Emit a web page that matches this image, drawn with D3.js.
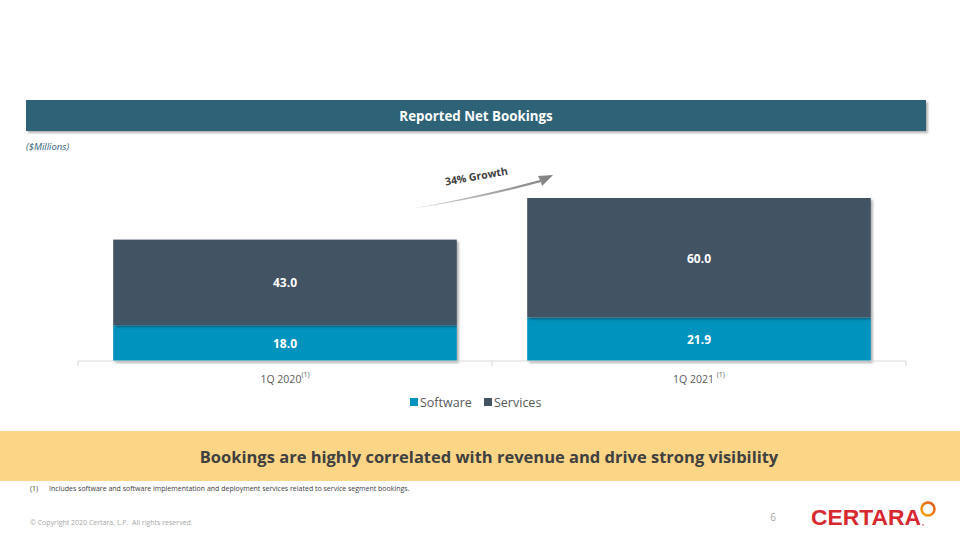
<!DOCTYPE html>
<html><head><meta charset="utf-8">
<script src="https://cdn.jsdelivr.net/npm/d3@7"></script>
<style>
html,body{margin:0;padding:0;background:#fff;}
svg{display:block;}
</style></head>
<body>
<svg id="c" width="960" height="540"></svg>
<script>
const categories = ["1Q 2020", "1Q 2021"];
const software = [18.0, 21.9];
const services = [43.0, 60.0];
const seriesNames = ["Software", "Services"];
const seriesColors = ["#0093bd", "#435364"];

const FONT = "'Open Sans',sans-serif";
const svg = d3.select("#c");
const defs = svg.append("defs");

const sh = defs.append("filter").attr("id","sh").attr("x","-5%").attr("y","-5%").attr("width","115%").attr("height","130%");
sh.append("feDropShadow").attr("dx",2).attr("dy",2).attr("stdDeviation",1.2).attr("flood-color","#000").attr("flood-opacity",0.3);

// Header banner
svg.append("rect").attr("x",26).attr("y",100).attr("width",900).attr("height",31)
  .attr("fill","#2f6277").attr("filter","url(#sh)");
svg.append("text").attr("x",476).attr("y",120.5).attr("text-anchor","middle")
  .attr("font-family",FONT).attr("font-weight","bold").attr("font-size",13.3).attr("fill","#fff")
  .text("Reported Net Bookings");
svg.append("text").attr("x",26).attr("y",150).attr("font-family",FONT).attr("font-style","italic")
  .attr("font-size",9.5).attr("fill","#2f6277").text("($Millions)");

// Chart
const x = d3.scaleBand().domain(categories).range([78,906]).paddingInner(0.17).paddingOuter(0.085);
const totals = categories.map((c,i)=>software[i]+services[i]);
const y = d3.scaleLinear().domain([0, d3.max(totals)]).range([361,198]);

const rows = categories.map((c,i)=>({cat:c, Software:software[i], Services:services[i]}));
const stacked = d3.stack().keys(seriesNames)(rows);

const g = svg.append("g");
stacked.forEach((layer,li)=>{
  g.selectAll(null).data(layer).enter().append("rect")
    .attr("x",d=>x(d.data.cat)).attr("width",x.bandwidth())
    .attr("y",d=>y(d[1])).attr("height",d=>y(d[0])-y(d[1]))
    .attr("fill",seriesColors[li]).attr("filter","url(#sh)");
});
stacked.forEach((layer,li)=>{
  g.selectAll(null).data(layer).enter().append("text")
    .attr("x",d=>x(d.data.cat)+x.bandwidth()/2)
    .attr("y",d=>(y(d[0])+y(d[1]))/2+5)
    .attr("text-anchor","middle").attr("font-family",FONT).attr("font-weight","bold")
    .attr("font-size",12).attr("fill","#fff")
    .text(d=>(d[1]-d[0]).toFixed(1));
});

// Axis
const ax = svg.append("g").attr("transform","translate(0,361)");
ax.append("line").attr("x1",78).attr("x2",906).attr("stroke","#d9d9d9");
const tickXs = [78].concat(categories.map(c=>x(c)+x.bandwidth()+x.step()*x.paddingInner()/2));
tickXs[tickXs.length-1] = 906;
ax.selectAll(null).data(tickXs).enter().append("line")
  .attr("x1",d=>d).attr("x2",d=>d).attr("y1",0).attr("y2",5).attr("stroke","#d9d9d9");
categories.forEach((c,i)=>{
  const t = svg.append("text").attr("x",x(c)+x.bandwidth()/2).attr("y",383)
    .attr("text-anchor","middle").attr("font-family",FONT).attr("font-size",10.5).attr("fill","#595959");
  t.append("tspan").text(c + (i===1?" ":""));
  t.append("tspan").attr("dy",-6).attr("font-size",7).text("(1)");
});

// Legend
const leg = svg.append("g");
const legX = [410, 484];
seriesNames.forEach((n,i)=>{
  leg.append("rect").attr("x",legX[i]).attr("y",398).attr("width",8).attr("height",8).attr("fill",seriesColors[i]);
  leg.append("text").attr("x",legX[i]+10).attr("y",407).attr("font-family",FONT).attr("font-size",12.5)
    .attr("fill","#595959").text(n);
});

// Growth arrow
const grad = defs.append("linearGradient").attr("id","ag").attr("x1","0").attr("x2","1").attr("y1","0").attr("y2","0");
grad.append("stop").attr("offset","0").attr("stop-color","#e0e0e0");
grad.append("stop").attr("offset","1").attr("stop-color","#7f7f7f");
svg.append("path").attr("d","M410,209 Q480,196 540,180 L538,176 L553,175 L542,186 L541,182 Q480,199 410,209 Z")
  .attr("fill","url(#ag)");
svg.append("text").attr("transform","translate(477,180) rotate(-10)").attr("text-anchor","middle")
  .attr("font-family",FONT).attr("font-weight","bold").attr("font-size",10.5).attr("fill","#404040")
  .text("34% Growth");

// Bottom band
svg.append("rect").attr("x",0).attr("y",431).attr("width",960).attr("height",50).attr("fill","#fdd587");
svg.append("text").attr("x",489).attr("y",463).attr("text-anchor","middle").attr("font-family",FONT)
  .attr("font-weight","bold").attr("font-size",16.5).attr("fill","#404040")
  .text("Bookings are highly correlated with revenue and drive strong visibility");

svg.append("text").attr("x",30).attr("y",491).attr("font-family",FONT).attr("font-size",7).attr("fill","#404040")
  .attr("xml:space","preserve").text("(1)      Includes software and software implementation and deployment services related to service segment bookings.");
svg.append("text").attr("x",30).attr("y",525).attr("font-family",FONT).attr("font-size",7).attr("fill","#a6a6a6")
  .attr("xml:space","preserve").text("© Copyright 2020 Certara, L.P.  All rights reserved.");
svg.append("text").attr("x",773).attr("y",521).attr("text-anchor","middle").attr("font-family",FONT)
  .attr("font-size",10).attr("fill","#a6a6a6").text("6");

// Logo
svg.append("text").attr("x",811).attr("y",525).attr("font-family","'Liberation Sans','Open Sans',sans-serif")
  .attr("font-weight","bold").attr("font-size",22).attr("fill","#d7282f").attr("textLength",110)
  .attr("lengthAdjust","spacingAndGlyphs").text("CERTARA");
const lg = defs.append("linearGradient").attr("id","lg").attr("x1","0").attr("x2","1").attr("y1","1").attr("y2","0");
lg.append("stop").attr("offset","0").attr("stop-color","#f7a600");
lg.append("stop").attr("offset","1").attr("stop-color","#e8531f");
svg.append("circle").attr("cx",928).attr("cy",509).attr("r",6.5).attr("fill","none")
  .attr("stroke","url(#lg)").attr("stroke-width",2.5);
svg.append("circle").attr("cx",923).attr("cy",525).attr("r",0.8).attr("fill","#d7282f");
</script>
</body></html>
